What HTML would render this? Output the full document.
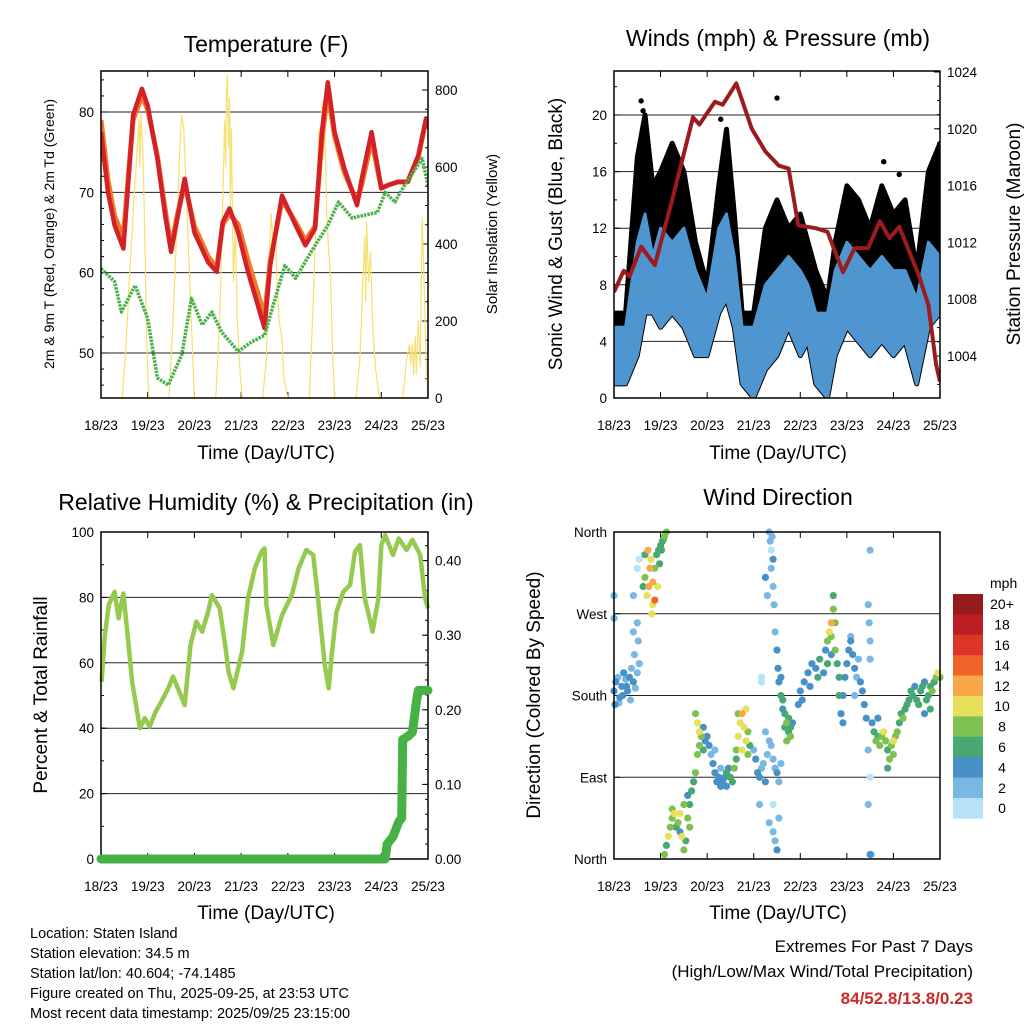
<!DOCTYPE html>
<html><head><meta charset="utf-8">
<style>
html,body{margin:0;padding:0;background:#fff;}
svg{display:block;font-family:"Liberation Sans",Arial,sans-serif;}
</style></head>
<body>
<svg id="chart" width="1024" height="1024" viewBox="0 0 1024 1024" xmlns="http://www.w3.org/2000/svg">
<rect x="0" y="0" width="1024" height="1024" fill="#fff"/>
<g id="g1"></g>
<g id="g2"></g>
<g id="g3"></g>
<g id="g4"></g>
<text x="266" y="52" font-size="23" text-anchor="middle">Temperature (F)</text>
<text x="778" y="46" font-size="23" text-anchor="middle">Winds (mph) &amp; Pressure (mb)</text>
<text x="266" y="510" font-size="23" text-anchor="middle">Relative Humidity (%) &amp; Precipitation (in)</text>
<text x="778" y="505" font-size="23" text-anchor="middle">Wind Direction</text>
<text x="266" y="459" font-size="19" text-anchor="middle">Time (Day/UTC)</text>
<text x="778" y="459" font-size="19" text-anchor="middle">Time (Day/UTC)</text>
<text x="266" y="919" font-size="19" text-anchor="middle">Time (Day/UTC)</text>
<text x="778" y="919" font-size="19" text-anchor="middle">Time (Day/UTC)</text>
<text transform="translate(54,234) rotate(-90)" font-size="14" text-anchor="middle">2m &amp; 9m T (Red, Orange) &amp; 2m Td (Green)</text>
<text transform="translate(497,234) rotate(-90)" font-size="15" text-anchor="middle">Solar Insolation (Yellow)</text>
<text transform="translate(562,234) rotate(-90)" font-size="19" text-anchor="middle">Sonic Wind &amp; Gust (Blue, Black)</text>
<text transform="translate(1020,234) rotate(-90)" font-size="19" text-anchor="middle">Station Pressure (Maroon)</text>
<text transform="translate(47,695) rotate(-90)" font-size="19" text-anchor="middle">Percent &amp; Total Rainfall</text>
<text transform="translate(540,695) rotate(-90)" font-size="19" text-anchor="middle">Direction (Colored By Speed)</text>
<g font-size="14.5">
<text x="30" y="938">Location: Staten Island</text>
<text x="30" y="958">Station elevation: 34.5 m</text>
<text x="30" y="978">Station lat/lon: 40.604; -74.1485</text>
<text x="30" y="998">Figure created on Thu, 2025-09-25, at 23:53 UTC</text>
<text x="30" y="1018">Most recent data timestamp: 2025/09/25 23:15:00</text>
</g>
<g text-anchor="end">
<text x="973" y="952" font-size="17">Extremes For Past 7 Days</text>
<text x="973" y="977" font-size="17">(High/Low/Max Wind/Total Precipitation)</text>
<text x="973" y="1004" font-size="17" font-weight="bold" fill="#cc2a2a">84/52.8/13.8/0.23</text>
</g>
</svg>
<script>
var dayLabels=["18/23","19/23","20/23","21/23","22/23","23/23","24/23","25/23"];
// Temperature panel
var redT=[0,3.6,7,11.5,14,16.5,21,24,29,33,36,39.5,43,48,55,59.5,62.5,66,70.5,75.5,80.5,84,87,93,100,105,110,113.5,116.5,120,125,131.5,134,139,144,147.5,152.5,157.5,163,167,168];
var redV=[77.5,70,65.9,63,71.3,79.6,82.9,80.8,74.2,67.1,62.6,67.1,71.7,65,61.3,60.1,66.3,68,65,60.1,56,53.1,61,69.6,65.9,63.4,65.5,77.5,83.7,77.5,73,68.4,71.7,77.5,70.5,70.9,71.3,71.3,74.6,79.2,78.1];
var orangeV=[79,71.5,67,64.5,72,79,82,80.3,74.5,67.8,63.2,67.5,71,65.8,62,60.6,66,67.3,66,61.5,57.5,54.5,61.5,69,66.3,64,65.8,76.5,82.5,77,72.5,68.8,71,76.5,70.5,70.9,71.3,71.3,74.4,79,78];
var dewT=[0,7,10.5,17.5,24,29,34.5,41.5,46.5,52,57,62,70.5,77.5,84,89.5,94.5,100,108,116.5,122,129,142,146,151,156,165,168];
var dewV=[60.5,58.9,55.1,58.4,54.3,46.9,46,49.8,56.8,53.5,55.1,52.6,50.2,51.4,52.2,56.8,60.9,59.3,62.6,65.9,68.8,66.8,67.5,70,68.8,70.9,74.2,70.9];
var solarT=[0,11,13,15,17,18.5,19.5,20,20.5,21.5,22.5,23.5,24.5,35,37,39,40.5,41.5,42.5,44,46,48,59,61,62.5,63.5,64,64.5,65,65.5,66,66.5,67,68,69,70,71.5,72.5,83,85,86.5,87.5,88.5,89.5,90.5,91.5,93,94,96,107,109,111,112,113,113.5,114,115,116,117,118,119,120,131,133,134.5,135.5,136,136.5,137.5,138.5,139.5,141,143,155,157,158.5,159,160,160.5,161.5,162,163,164,165,166,167,168];
var solarV=[0,0,150,350,520,640,720,600,740,650,420,150,0,0,200,450,650,735,700,520,250,0,0,200,500,720,600,800,840,650,780,500,700,300,450,200,60,0,0,100,380,480,380,460,300,200,150,50,0,0,250,550,700,560,770,620,700,480,380,300,120,0,0,100,300,420,250,460,300,380,200,80,0,0,100,140,90,140,60,160,60,200,80,470,300,100,0];
// Winds panel
var windT=[0,6,12,16,20,24,30,36,42,48,54,58,62,66,72,78,84,90,96,100,104,110,114,120,126,132,138,144,150,156,162,168];
var windLo=[1,1,3,6,6,5,6,5,3,3,6,7,5,1,0,2,3,5,3,4,1,0,3,5,4,3,4,3,4,1,5,6];
var windHi=[5,5,11,13,10,12,11,12,9,7,12,13,10,5,5,8,9,10,9,8,6,6,9,11,10,9,10,9,9,7,11,10];
var gustHi=[6,6,17,20,15,16,18,16,11,8,15,19,13,6,6,12,14,12,13,11,9,7,11,15,14,12,15,13,14,9,16,18];
var gustPeakT=[14,15,55,84,139,147];
var gustPeakV=[21,20.3,19.7,21.2,16.7,15.8];
var presT=[0,5,8,14,21,30,40.7,44,52,56,63,71,78,85,90,95,104,110,118,124,131,137,142,147,157,162,166,168];
var presV=[1008.5,1010,1009.6,1011.7,1010.4,1015,1020.8,1020.3,1021.9,1021.7,1023.2,1020,1018.4,1017.4,1017.2,1013.2,1013,1012.75,1009.9,1011.6,1011.6,1013.5,1012.3,1013.1,1009.7,1007.6,1003.4,1002.2];
// Humidity panel
var rhT=[0.3,2,4,7,9,11.5,14,16,20,22.5,25,28,31,34.5,37,39.5,43,46,49,52,55,57,61,64,65.5,68,72.5,75.5,79,82.5,84,85,88.5,93,98,101.5,105.5,109,111.5,115,117,118.5,121,124.5,128,130.5,133,135.5,138,139.5,142.5,144,146,150,153,157,160,164,166.5,168];
var rhV=[54.2,68.5,77.7,81.7,73.6,81.2,66.4,54.2,40,43.1,40.5,45,48.1,52.2,55.8,52.2,47.1,65.4,72.6,69.5,75.6,80.7,76.7,64.4,57.3,52.2,63.4,79.7,88.9,94,95,77.7,65.4,74.6,80.7,88.9,94.5,93,79.7,59.3,52.2,62.4,75.6,81.7,83.8,94,96,79.7,73.6,69.5,79.7,96,99,93,98,94.5,97.6,93,79.7,76.7];
var precipT=[0,146,147,150,153,154.5,155,158,160,161,162,163,168];
var precipV=[0,0,0.02,0.03,0.05,0.055,0.16,0.165,0.17,0.19,0.21,0.226,0.226];
// Wind direction panel
var dirT=[0,1,2,3,4,5,6,7,8,9,10,11,12,13,0.5,2.5,4.5,6.5,8.5,10.5,12.5,0,0,10,10,12,12,13,
15,16,17,18,18.5,19,20,20,21,21,22,22.5,23,24,25,26,27,16,19.5,23.5,24.5,17.5,25.5,
26,27,28,29,30,31,32,33,34,35,36,37,38,39,40,41,42,38,34,30,36,39,
42,43,44,45,46,44,46,47,43,
48,49,50,51,52,53,54,55,56,57,58,59,60,61,52,55,58,
62,63,64,65,66,67,68,69,70,64,66,68,63,69,
72,73,74,75,76,77,78,79,80,81,82,83,84,85,86,75,78,80,
80,80.5,81,81,82,82.5,83,84,84.5,85,79,78,76,76,82,83,84,82,85,81.5,82,
86,87,87,88,89,90,91,88,90,86,89,92,91,
95,96,98,100,102,104,106,108,110,112,97,101,105,109,
110,111,112,113,113,112,114,115,116,117,116,118,114,
118,119,120,121,122,123,124,125,126,127,128,129,130,122,124,
131,131.5,132,132,131,132,131,132,132.5,132,
133,134,135,136,137,138,139,140,141,142,143,144,145,146,147,148,149,150,141,144,136,
151,152,153,154,155,156,157,158,159,160,161,162,163,164,165,166,167,168,160,163];
var dirD=[185,195,200,178,190,205,198,185,200,210,195,188,205,215,170,172,180,190,175,225,240,265,290,290,250,260,320,330,
300,310,290,300,320,330,280,305,320,285,335,300,340,345,350,355,360,335,270,325,340,340,352,
5,15,25,35,45,50,35,40,50,25,10,20,45,60,75,85,95,70,30,55,60,35,
160,150,140,135,120,125,145,130,115,
135,125,115,105,95,85,90,80,85,90,95,100,90,85,120,100,80,
100,120,135,150,160,145,130,140,125,160,120,165,110,115,
120,110,95,90,100,105,85,115,130,125,110,100,95,85,105,60,140,40,
360,350,340,320,300,280,250,230,210,195,290,310,200,195,30,20,10,60,45,355,330,
180,175,165,160,150,140,135,145,155,200,130,150,145,
170,185,195,205,215,210,220,205,215,225,175,190,200,230,
240,250,260,275,290,245,230,215,180,160,200,150,260,
180,200,215,230,240,225,210,200,220,195,185,170,155,245,180,
280,260,240,220,120,90,60,5,5,340,
150,140,130,135,125,135,140,130,120,110,125,130,135,140,150,160,155,165,100,115,155,
170,175,185,180,190,175,170,185,190,195,175,180,190,185,195,200,205,200,160,165];
var dirS=[4,4,3,4,4,4,3,4,4,2,4,3,2,2,4,3,4,4,2,2,2,2,2,2,2,2,1,1,
6,8,10,12,12,10,10,12,8,14,6,10,6,6,6,8,8,6,10,6,6,12,6,
8,6,10,8,8,10,6,8,10,10,8,6,8,6,6,6,8,4,4,8,8,8,
8,10,10,8,6,8,4,4,8,
4,4,2,4,4,4,4,4,4,4,6,4,6,6,2,2,4,
8,8,10,10,12,10,10,8,6,8,10,10,6,8,
2,4,4,4,2,2,4,2,2,2,2,2,4,2,2,2,2,2,
2,2,0,2,2,2,2,4,4,4,2,4,0,0,2,2,4,0,2,2,4,
6,6,4,6,8,6,8,6,6,4,8,4,6,
4,4,4,4,4,4,6,4,6,4,4,4,6,4,
8,10,12,8,6,8,8,6,6,4,6,4,8,
4,4,4,4,4,4,4,2,2,4,4,4,4,2,2,
2,2,2,2,2,0,2,4,2,2,
4,6,8,6,8,8,10,8,6,8,8,10,8,8,6,6,8,6,6,8,4,
6,6,6,6,4,6,6,6,6,4,6,6,6,8,6,8,10,8,4,6];
var speedLabels=["0","2","4","6","8","10","12","14","16","18","20+"];
var speedColors=["#b8e2f8","#7ab8e4","#4890c8","#48a872","#7dc250","#e8e05a","#f8a848","#f06228","#dd3428","#bc1e23","#931a1d"];

var NS="http://www.w3.org/2000/svg";
function mk(parent,tag,attrs){var e=document.createElementNS(NS,tag);for(var k in attrs)e.setAttribute(k,attrs[k]);parent.appendChild(e);return e;}
function lin(d0,d1,r0,r1){return function(v){return r0+(v-d0)/(d1-d0)*(r1-r0);};}
function pathFrom(ts,vs,xs,ys){var s="";for(var i=0;i<ts.length;i++){s+=(i?"L":"M")+xs(ts[i]).toFixed(1)+","+ys(vs[i]).toFixed(1);}return s;}

function frame(g,x0,y0,w,h,name){
  var xs=lin(0,168,x0,x0+w);
  for(var d=0;d<dayLabels.length;d++){
    var x=xs(d*24);
    var t1=mk(g,"line",{x1:x,y1:y0,x2:x,y2:y0+6,stroke:"#000","stroke-width":1});
    
    
    var t2=mk(g,"line",{x1:x,y1:y0+h,x2:x,y2:y0+h-6,stroke:"#000","stroke-width":1});
    
    
    var lb=mk(g,"text",{x:x,y:y0+h+32,"font-size":13.5,"text-anchor":"middle"});
    lb.textContent=dayLabels[d];
    
    
  }
  return xs;
}
function border(g,x0,y0,w,h){
  var b=mk(g,"rect",{x:x0,y:y0,width:w,height:h,fill:"none",stroke:"#000","stroke-width":1.5});
  
  
}
function yAxis(g,x0,y0,w,h,ys,vals,labels,side,grid,minorStep,dmin,dmax){
  for(var i=0;i<vals.length;i++){
    var y=ys(vals[i]);
    if(grid){var gl=mk(g,"line",{x1:x0,y1:y,x2:x0+w,y2:y,stroke:"#222","stroke-width":1});
      
      }
    var xe=side=="L"?x0:x0+w;
    var tk=mk(g,"line",{x1:xe,y1:y,x2:side=="L"?xe+6:xe-6,y2:y,stroke:"#000"});
    
    
    var lb=mk(g,"text",{x:side=="L"?x0-7:x0+w+7,y:y+5,"font-size":13.5,"text-anchor":side=="L"?"end":"start"});
    lb.textContent=labels[i];
    
    
  }
  if(minorStep){for(var v=Math.ceil(dmin/minorStep)*minorStep;v<=dmax;v+=minorStep){var yy=ys(v);
    var xe2=side=="L"?x0:x0+w;
    var mt=mk(g,"line",{x1:xe2,y1:yy,x2:side=="L"?xe2+3:xe2-3,y2:yy,stroke:"#000"});
    
    }}
}

// ---------- Panel 1 ----------
(function(){
  var g=document.getElementById("g1"),x0=101,y0=71,w=327,h=327;
  var xs=frame(g,x0,y0,w,h);
  var ys=lin(50,80,353,112), ysol=lin(0,800,398,90);
  yAxis(g,x0,y0,w,h,ys,[50,60,70,80],["50","60","70","80"],"L",true,2,45,85);
  yAxis(g,x0,y0,w,h,ysol,[0,200,400,600,800],["0","200","400","600","800"],"R",false,50,0,820);
  var cp=mk(g,"clipPath",{id:"c1"});mk(cp,"rect",{x:x0,y:y0,width:w,height:h});
  var pg=mk(g,"g",{"clip-path":"url(#c1)"});
  var s=mk(pg,"path",{d:pathFrom(solarT,solarV,xs,ysol),fill:"none",stroke:"#f8e070","stroke-width":1.2});
  
  
  var o=mk(pg,"path",{d:pathFrom(redT,orangeV,xs,ys),fill:"none",stroke:"#f07828","stroke-width":5,"stroke-linejoin":"round"});
  
  
  var r=mk(pg,"path",{d:pathFrom(redT,redV,xs,ys),fill:"none",stroke:"#d42027","stroke-width":4.5,"stroke-linejoin":"round"});
  
  
  var dw=mk(pg,"path",{d:pathFrom(dewT,dewV,xs,ys),fill:"none",stroke:"#4bb04a","stroke-width":3.5,"stroke-dasharray":"2.5,1","stroke-linejoin":"round"});
  
  
  border(g,x0,y0,w,h);
})();

// ---------- Panel 2 ----------
(function(){
  var g=document.getElementById("g2"),x0=614,y0=71,w=326,h=327;
  var xs=frame(g,x0,y0,w,h);
  var ys=lin(0,20,398,115), yp=lin(1004,1024,356,72);
  yAxis(g,x0,y0,w,h,ys,[0,4,8,12,16,20],["0","4","8","12","16","20"],"L",true,2,0,23);
  yAxis(g,x0,y0,w,h,yp,[1004,1008,1012,1016,1020,1024],["1004","1008","1012","1016","1020","1024"],"R",false,1,1002,1024);
  var cp=mk(g,"clipPath",{id:"c2"});mk(cp,"rect",{x:x0,y:y0,width:w,height:h});
  var pg=mk(g,"g",{"clip-path":"url(#c2)"});
  function band(lo,hi){var s="";for(var i=0;i<windT.length;i++)s+=(i?"L":"M")+xs(windT[i]).toFixed(1)+","+ys(hi[i]).toFixed(1);
    for(var j=windT.length-1;j>=0;j--)s+="L"+xs(windT[j]).toFixed(1)+","+ys(lo[j]).toFixed(1);return s+"Z";}
  var gb=mk(pg,"path",{d:band(windLo,gustHi),fill:"#000",stroke:"#000","stroke-width":5,"stroke-linejoin":"round"});
  
  
  for(var i=0;i<gustPeakT.length;i++){
    var c=mk(pg,"circle",{cx:xs(gustPeakT[i]),cy:ys(gustPeakV[i]),r:2.7,fill:"#000"});
    
    
  }
  var wb=mk(pg,"path",{d:band(windLo,windHi),fill:"#4f96d0",stroke:"#4f96d0","stroke-width":3,"stroke-linejoin":"round"});
  
  
  var p=mk(pg,"path",{d:pathFrom(presT,presV,xs,yp),fill:"none",stroke:"#9b1b1e","stroke-width":4,"stroke-linejoin":"round"});
  
  
  border(g,x0,y0,w,h);
})();

// ---------- Panel 3 ----------
(function(){
  var g=document.getElementById("g3"),x0=101,y0=532,w=327,h=327;
  var xs=frame(g,x0,y0,w,h);
  var ys=lin(0,100,859,532), ypr=lin(0,0.1,859,784.4);
  yAxis(g,x0,y0,w,h,ys,[0,20,40,60,80,100],["0","20","40","60","80","100"],"L",true,10,0,100);
  yAxis(g,x0,y0,w,h,ypr,[0,0.1,0.2,0.3,0.4],["0.00","0.10","0.20","0.30","0.40"],"R",false,0.02,0,0.43);
  var rh=mk(g,"path",{d:pathFrom(rhT,rhV,xs,ys),fill:"none",stroke:"#96c94f","stroke-width":4.5,"stroke-linejoin":"round"});
  
  
  border(g,x0,y0,w,h);
  var pr=mk(g,"path",{d:pathFrom(precipT,precipV,xs,ypr),fill:"none",stroke:"#48b146","stroke-width":9,"stroke-linecap":"round","stroke-linejoin":"round"});
  
  
})();

// ---------- Panel 4 ----------
(function(){
  var g=document.getElementById("g4"),x0=614,y0=532,w=326,h=327;
  var xs=frame(g,x0,y0,w,h);
  var ys=lin(0,360,859,532);
  yAxis(g,x0,y0,w,h,ys,[0,90,180,270,360],["North","East","South","West","North"],"L",true,0,0,0);
  var order=[];for(var i=0;i<dirT.length;i++)order.push(i);
  order.sort(function(a,b){return dirS[a]-dirS[b];});
  for(var k=0;k<order.length;k++){var i2=order[k];
    var ci=Math.min(10,Math.floor(dirS[i2]/2));
    var c=mk(g,"circle",{cx:xs(dirT[i2]).toFixed(1),cy:ys(dirD[i2]).toFixed(1),r:3.6,fill:speedColors[ci]});
    
    
  }
  border(g,x0,y0,w,h);
  var lg=mk(g,"g",{});
  
  
  var t=mk(lg,"text",{x:990,y:588,"font-size":14});t.textContent="mph";
  
  
  var bh=20.4;
  for(var j=0;j<speedColors.length;j++){
    var idx=speedColors.length-1-j;
    var y=594+j*bh;
    var r=mk(lg,"rect",{x:953,y:y,width:30,height:bh+0.3,fill:speedColors[idx]});
    
    
    var l=mk(lg,"text",{x:1002,y:y+bh/2+5,"font-size":14,"text-anchor":"middle"});
    l.textContent=speedLabels[idx];
    
    
  }
})();
</script>
</body></html>
